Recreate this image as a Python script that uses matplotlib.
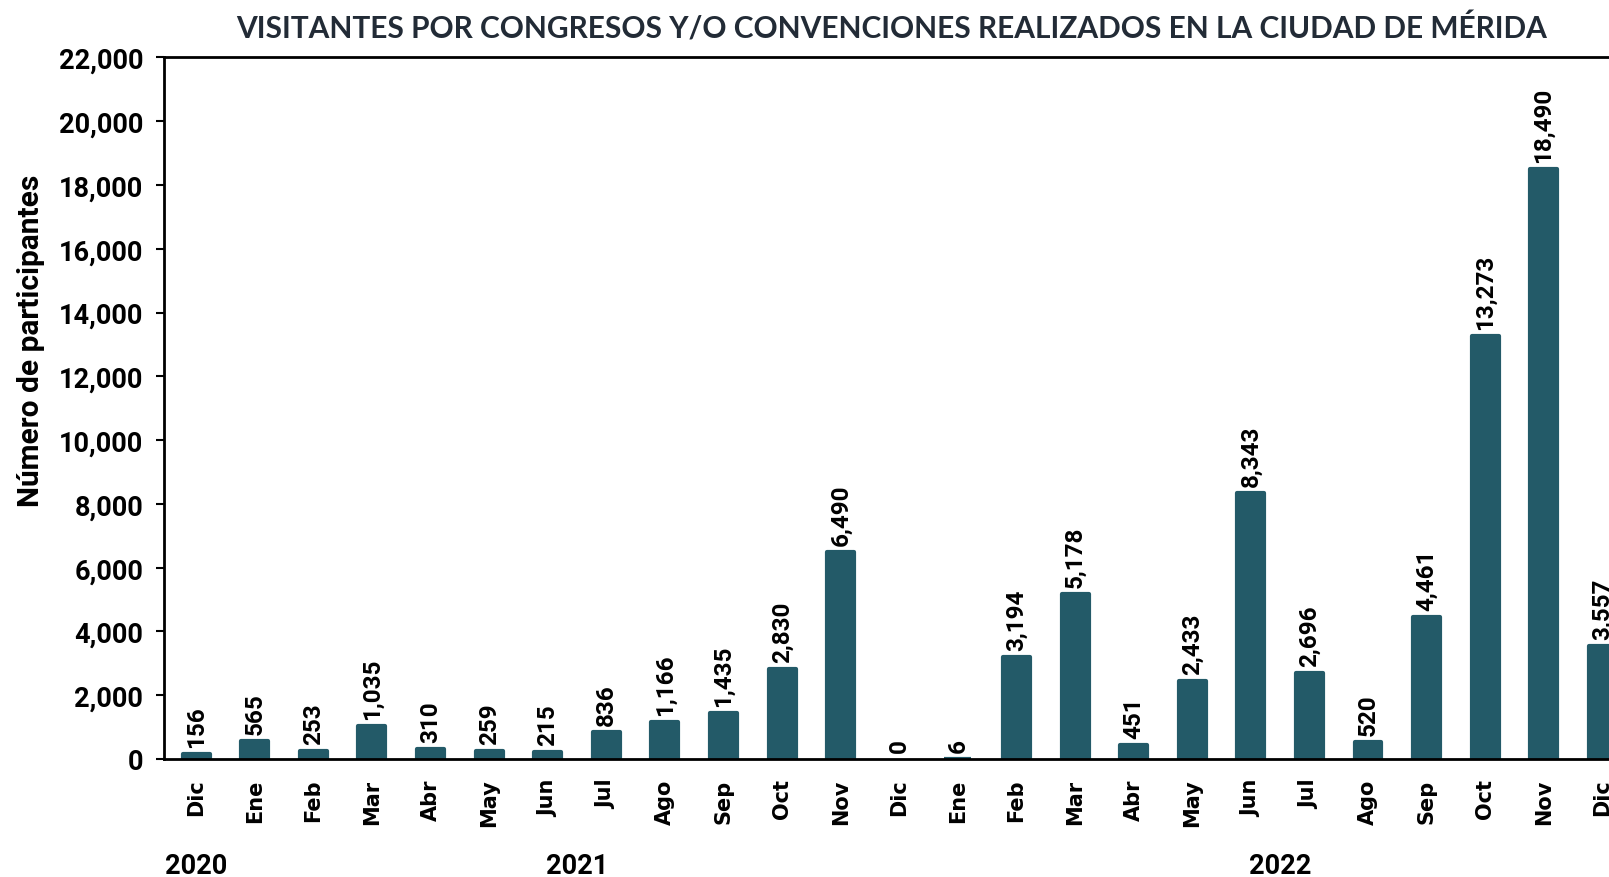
import matplotlib
matplotlib.use("Agg")
import matplotlib.pyplot as plt
import matplotlib.transforms as mtransforms

# data
months = ["Dic", "Ene", "Feb", "Mar", "Abr", "May", "Jun", "Jul", "Ago", "Sep", "Oct", "Nov",
          "Dic", "Ene", "Feb", "Mar", "Abr", "May", "Jun", "Jul", "Ago", "Sep", "Oct", "Nov",
          "Dic"]
visitors = [156, 565, 253, 1035, 310, 259, 215, 836, 1166, 1435, 2830, 6490,
            0, 6, 3194, 5178, 451, 2433, 8343, 2696, 520, 4461, 13273, 18490,
            3557]
years = ["2020", "2021", "2022"]
year_pos = [0, 6.5, 18.5]

bar_color = "#235A68"

fig = plt.figure(figsize=(16.09, 8.78), dpi=100)
ax = fig.add_axes([0.1019, 0.1344, 0.914, 0.799])

x = list(range(len(visitors)))
lws = [0 if v == 0 else 3 for v in visitors]
ax.bar(x, visitors, width=0.46, color=bar_color, edgecolor=bar_color,
       linewidth=lws, joinstyle="round")

for xi, v in zip(x, visitors):
    ax.annotate(f"{v:,}", (xi, v), xytext=(0, 5), textcoords="offset points",
                rotation=90, ha="center", va="bottom", fontsize=17.5,
                fontfamily="Roboto", fontweight="bold", color="black",
                annotation_clip=False)

ax.set_xlim(-0.55, 24.55)
ax.set_ylim(0, 22000)
ax.set_yticks(range(0, 22001, 2000))
ax.set_yticklabels([f"{t:,}" for t in range(0, 22001, 2000)],
                   fontsize=19.5, fontfamily="Roboto", fontweight="bold")
ax.tick_params(axis="y", length=6, width=1.5, pad=9)
ax.set_xticks(x)
ax.set_xticklabels(months, rotation=90, fontsize=15, fontfamily="DejaVu Sans",
                   fontweight="bold")
ax.tick_params(axis="x", length=0, pad=14)

for s in ["left", "bottom", "top"]:
    ax.spines[s].set_linewidth(2)
ax.spines["right"].set_visible(False)

trans = mtransforms.blended_transform_factory(ax.transData, fig.transFigure)
for yr, xp in zip(years, year_pos):
    ax.text(xp, 1 - 867 / 878, yr, transform=trans, ha="center", va="center",
            fontsize=19.5, fontfamily="Roboto", fontweight="bold")

fig.text(31 / 1609, 1 - 341 / 878, "Número de participantes", rotation=90,
         ha="center", va="center", fontsize=21.5, fontfamily="Roboto", fontweight="bold")
fig.text(892 / 1609, 1 - 28 / 878,
         "VISITANTES POR CONGRESOS Y/O CONVENCIONES REALIZADOS EN LA CIUDAD DE MÉRIDA",
         ha="center", va="center", fontsize=21.5, fontfamily="Lato", fontweight="bold",
         color="#222B36")

fig.savefig("out.png", dpi=100)
